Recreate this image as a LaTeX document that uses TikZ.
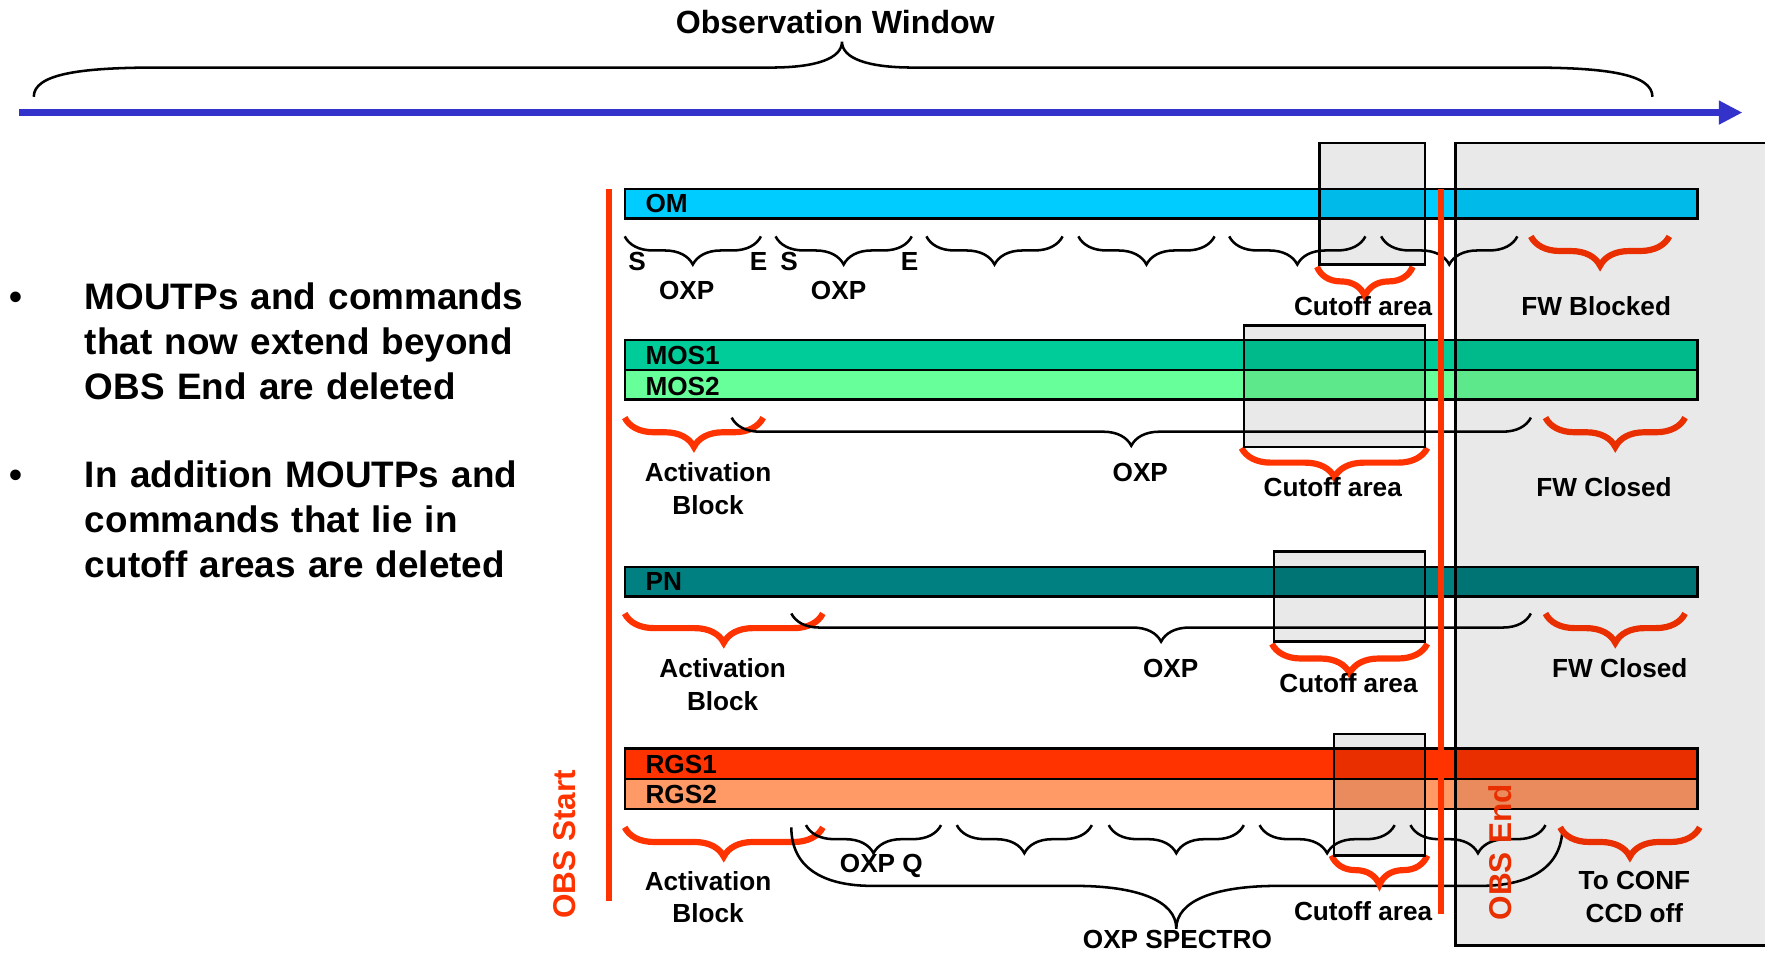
\documentclass[tikz,border=0pt]{standalone}
\usepackage{fontspec}
\setmainfont{Liberation Sans}
\usetikzlibrary{arrows.meta,decorations.pathreplacing}
\definecolor{obsRed}{HTML}{FF3300}
\definecolor{obsBlue}{HTML}{3333CC}
\definecolor{omCyan}{HTML}{00CCFF}
\definecolor{mosOne}{HTML}{00CC99}
\definecolor{mosTwo}{HTML}{66FF99}
\definecolor{pnTeal}{HTML}{008080}
\definecolor{rgsOne}{HTML}{FF3300}
\definecolor{rgsTwo}{HTML}{FF9966}
\newcommand{\lblfont}{\fontsize{9.3}{11.6}\selectfont\bfseries}
\tikzset{
  bar/.style={draw=black, line width=0.8pt},
  barlbl/.style={font=\lblfont, anchor=west, inner sep=0pt},
  lbl/.style={font=\lblfont, align=center, inner sep=0pt},
  oxp/.style={decorate, decoration={brace, mirror, amplitude=10pt}, line width=0.9pt},
  cut/.style={decorate, decoration={brace, mirror, amplitude=10.4pt}, line width=2.2pt, draw=obsRed},
  shade/.style={draw=black, line width=0.9pt, fill=black, fill opacity=0.085},
  obsline/.style={draw=obsRed, line width=2pt},
  obslbl/.style={font=\fontsize{11.2}{13}\selectfont\bfseries, text=obsRed, rotate=90, inner sep=0pt},
  bullet/.style={font=\fontsize{13.1}{16}\selectfont\bfseries, anchor=base west, inner sep=0pt},
}

\begin{document}
\begin{tikzpicture}[x=0.4pt, y=-0.4pt]
  \useasboundingbox (0,0) rectangle (1568,847);
  % time axis and observation window
  \coordinate (t0) at (17,100);
  \coordinate (t1) at (1548,100);
  \draw[obsBlue, line width=2.4pt, -{Triangle[length=8.4pt, width=8pt]}] (t0) -- (t1);
  \draw[line width=0.9pt] (30,86) .. controls (30,66) and (70,60) .. (140,60) -- (685,60)
    .. controls (725,60) and (748,52) .. (748,37) .. controls (748,52) and (771,60) .. (811,60)
    -- (1358,60) .. controls (1428,60) and (1468,66) .. (1468,86);
  \node[font=\fontsize{11.4}{13}\selectfont\bfseries, inner sep=0pt] (win) at (742,20) {Observation Window};

  \node[bullet] (b1) at (8,275) {\textbullet};
  \node[bullet, text width=200pt, align=left] (txt1) at (75,275) {MOUTPs and commands\\that now extend beyond\\OBS End are deleted};
  \node[bullet] (b2) at (8,433) {\textbullet};
  \node[bullet, text width=200pt, align=left] (txt2) at (75,433) {In addition MOUTPs and\\commands that lie in\\cutoff areas are deleted};

  % instrument bars
  \draw[bar, fill=omCyan] (555,168) rectangle (1508,194);
  \node[barlbl] (om) at (573,181) {OM};
  \draw[bar, fill=mosOne] (555,302) rectangle (1508,329);
  \draw[bar, fill=mosTwo] (555,329) rectangle (1508,355);
  \node[barlbl] (mos1) at (573,316) {MOS1};
  \node[barlbl] (mos2) at (573,343) {MOS2};
  \draw[bar, fill=pnTeal] (555,504) rectangle (1508,530);
  \node[barlbl] (pn) at (573,517) {PN};
  \draw[bar, fill=rgsOne] (555,665) rectangle (1508,692);
  \draw[bar, fill=rgsTwo] (555,692) rectangle (1508,719);
  \node[barlbl] (rgs1) at (573,679) {RGS1};
  \node[barlbl] (rgs2) at (573,706) {RGS2};

  % OM
  \foreach \a in {555,689,823,958,1092,1227}
    \draw[oxp] (\a,210) -- ++(121,0);
  \node[lbl] (s1) at (566,232) {S};
  \node[lbl] (e1) at (674,232) {E};
  \node[lbl] (s2) at (701,232) {S};
  \node[lbl] (e2) at (808,232) {E};
  \node[lbl] (oxp1) at (610,258) {OXP};
  \node[lbl] (oxp2) at (745,258) {OXP};
  \draw[cut] (1170,237) -- (1255,237);
  \node[lbl] (cut1) at (1211,272) {Cutoff area};
  \draw[cut] (1360,210) -- (1483,210);
  \node[lbl] (fw1) at (1418,272) {FW Blocked};

  % MOS
  \draw[cut] (555,371) -- (678,371);
  \node[lbl] (act1) at (629,434) {Activation\\Block};
  \draw[oxp] (650,371) -- (1360,371);
  \node[lbl] (oxp3) at (1013,420) {OXP};
  \draw[cut] (1103,398) -- (1268,398);
  \node[lbl] (cut2) at (1184,433) {Cutoff area};
  \draw[cut] (1373,371) -- (1497,371);
  \node[lbl] (fw2) at (1425,433) {FW Closed};

  % PN
  \draw[cut] (555,545) -- (731,545);
  \node[lbl] (act2) at (642,608) {Activation\\Block};
  \draw[oxp] (703,545) -- (1360,545);
  \node[lbl] (oxp4) at (1040,594) {OXP};
  \draw[cut] (1130,572) -- (1268,572);
  \node[lbl] (cut3) at (1198,607) {Cutoff area};
  \draw[cut] (1373,545) -- (1497,545);
  \node[lbl] (fw3) at (1439,594) {FW Closed};

  % RGS
  \draw[cut] (555,735) -- (731,735);
  \node[lbl] (act3) at (629,797) {Activation\\Block};
  \foreach \a in {716,850,985,1119,1253}
    \draw[oxp] (\a,733) -- ++(120,0);
  \node[lbl] (oxpq) at (783,769) {OXP Q};
  \draw[line width=0.9pt] (703,735) .. controls (703,770) and (730,787) .. (775,787) -- (955,787)
    .. controls (1010,787) and (1045,800) .. (1045,825) .. controls (1045,800) and (1080,787) .. (1135,787)
    -- (1315,787) .. controls (1360,787) and (1388,770) .. (1388,735);
  \node[lbl] (spec) at (1046,835) {OXP SPECTRO};
  \draw[cut] (1183,760) -- (1268,760);
  \node[lbl] (cut4) at (1211,809) {Cutoff area};
  \draw[cut] (1386,735) -- (1510,735);
  \node[lbl] (conf) at (1452,797) {To CONF\\CCD off};

  % OBS start / end
  \draw[obsline] (541,168) -- (541,800);
  \node[obslbl] (start) at (502,750) {OBS Start};
  \draw[obsline] (1280,168) -- (1280,812);
  \node[obslbl] (end) at (1333,757) {OBS End};

  % cutoff areas and closed filter wheel
  \foreach \a/\b/\c/\d in {1172/127/1266/235, 1105/289/1266/397, 1132/490/1266/570, 1185/652/1266/760}
    \draw[shade] (\a,\b) rectangle (\c,\d);
  \fill[black, fill opacity=0.085] (1293,127) rectangle (1600,840);
  \draw[line width=0.9pt] (1600,127) -- (1293,127) -- (1293,840) -- (1600,840);
\end{tikzpicture}
\end{document}
